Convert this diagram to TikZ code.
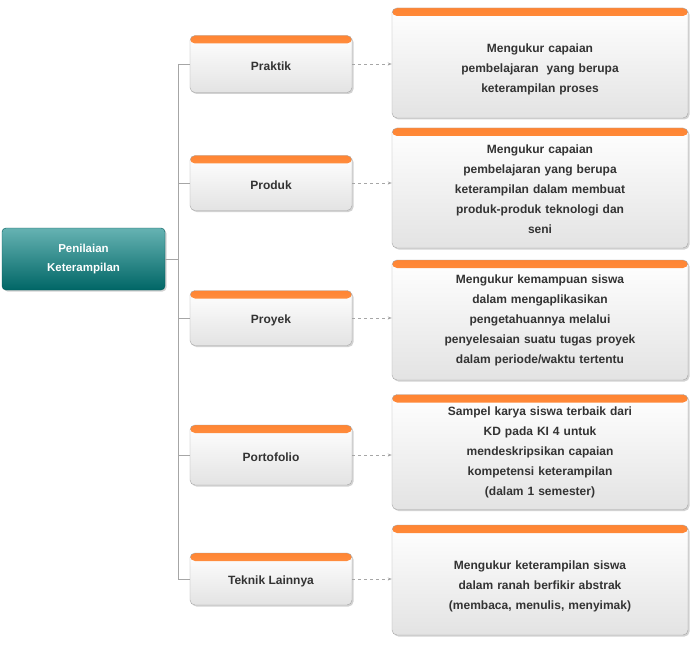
\documentclass[tikz,border=0pt]{standalone}
\usepackage{fontspec}
\setmainfont{Liberation Sans}
\usetikzlibrary{shadows,arrows.meta}
\begin{document}
\begin{tikzpicture}[x=1pt,y=-1pt,
  obox/.style={draw=gray!70, rounded corners=5pt, top color=white, bottom color=gray!22,
    drop shadow={shadow xshift=1.5pt,shadow yshift=-1.5pt,opacity=.35},
    font=\bfseries\fontsize{12}{20}\selectfont, text=black!80, align=center,
    path picture={\shade[top color=orange!80!red!80, bottom color=orange!50] (path picture bounding box.north west) rectangle ([yshift=-8pt]path picture bounding box.north east);}},
  mid/.style={obox, minimum width=162pt},
  desc/.style={obox, minimum width=296pt, text width=285pt, inner ysep=2pt},
  conn/.style={draw=gray!70, line width=0.7pt},
  arr/.style={conn, dashed, -{Stealth[length=4pt]}}]
\useasboundingbox (0,0) rectangle (700,644);
\fill[white] (0,0) rectangle (700,644);
\node[draw=teal!70!black, rounded corners=4pt, top color=teal!60, bottom color=teal!80!black,
  drop shadow={shadow xshift=1.5pt,shadow yshift=-1.5pt,opacity=.35},
  minimum width=163pt, minimum height=62pt, align=center, text=white,
  font=\bfseries\fontsize{11.5}{19}\selectfont] (root) at (83.5,259) {Penilaian\\Keterampilan};
\node[mid, minimum height=57pt] (m1) at (271,64) {\rule{0pt}{14pt}Praktik};
\node[mid, minimum height=55pt] (m2) at (271,183) {\rule{0pt}{14pt}Produk};
\node[mid, minimum height=55pt] (m3) at (271,318) {\rule{0pt}{14pt}Proyek};
\node[mid, minimum height=60pt] (m4) at (271,455) {\rule{0pt}{14pt}Portofolio};
\node[mid, minimum height=52pt] (m5) at (271,579) {\rule{0pt}{14pt}Teknik Lainnya};
\node[desc, minimum height=110pt] (d1) at (540,63) {\rule{0pt}{22pt}Mengukur capaian\\pembelajaran\ \ yang berupa\\keterampilan proses};
\node[desc, minimum height=120pt] (d2) at (540,188) {\rule{0pt}{12pt}Mengukur capaian\\pembelajaran yang berupa\\keterampilan dalam membuat\\produk-produk teknologi dan\\seni};
\node[desc, minimum height=120pt] (d3) at (540,320) {Mengukur kemampuan siswa\\dalam mengaplikasikan\\pengetahuannya melalui\\penyelesaian suatu tugas proyek\\dalam periode/waktu tertentu};
\node[desc, minimum height=115pt] (d4) at (540,452) {Sampel karya siswa terbaik dari\\KD pada KI 4 untuk\\mendeskripsikan capaian\\kompetensi keterampilan\\(dalam 1 semester)};
\node[desc, minimum height=110pt] (d5) at (540,580) {\rule{0pt}{22pt}Mengukur keterampilan siswa\\dalam ranah berfikir abstrak\\(membaca, menulis, menyimak)};
\coordinate (tt) at (178,64);
\coordinate (tb) at (178,579);
\draw[conn] (tt) -- (tb);
\draw[conn] (root.east) -- (root.east -| tt);
\foreach \i in {1,...,5}{
  \draw[conn] (m\i.west -| tt) -- (m\i.west);
  \draw[arr] (m\i.east) -- (m\i.east -| d\i.west);
}
\end{tikzpicture}
\end{document}
